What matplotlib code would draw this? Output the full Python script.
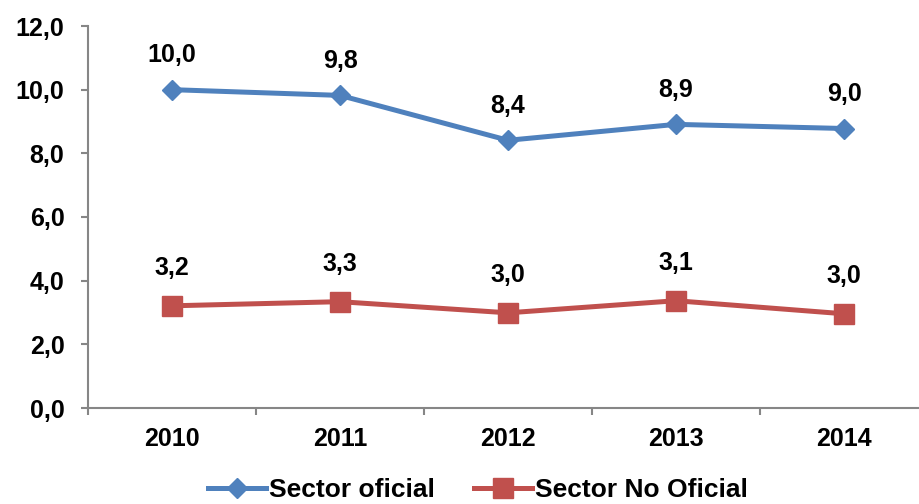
import matplotlib
matplotlib.use("Agg")
import matplotlib.pyplot as plt
import numpy as np

years = ["2010", "2011", "2012", "2013", "2014"]
oficial = [10.0, 9.82, 8.41, 8.91, 8.78]
no_oficial = [3.21, 3.34, 2.99, 3.37, 2.96]
oficial_labels = ["10,0", "9,8", "8,4", "8,9", "9,0"]
no_oficial_labels = ["3,2", "3,3", "3,0", "3,1", "3,0"]

plt.rcParams['font.family'] = ['Liberation Sans', 'DejaVu Sans']
plt.rcParams['font.weight'] = 'bold'

fig = plt.figure(figsize=(9.2, 5.04), dpi=100)
ax = fig.add_axes([88/920, 1 - 408/504, 840/920, 382/504])

x = np.arange(len(years))
blue = "#4F81BD"
red = "#C0504D"
ax.plot(x, oficial, color=blue, lw=3.6, marker="D", markersize=10,
        label="Sector oficial", solid_joinstyle="miter")
ax.plot(x, no_oficial, color=red, lw=3.6, marker="s", markersize=14,
        label="Sector No Oficial")

for xi, v, t in zip(x, oficial, oficial_labels):
    ax.annotate(t, (xi, v), xytext=(0, 25), textcoords="offset points",
                ha="center", va="center", fontsize=18, fontweight="bold")
for xi, v, t in zip(x, no_oficial, no_oficial_labels):
    ax.annotate(t, (xi, v), xytext=(0, 27), textcoords="offset points",
                ha="center", va="center", fontsize=18, fontweight="bold")

ax.set_xlim(-0.5, 4.5)
ax.set_ylim(0, 12)
ax.set_yticks(np.arange(0, 13, 2))
ax.set_yticklabels([f"{v:.1f}".replace(".", ",") for v in np.arange(0, 13, 2)])
ax.set_xticks(x)
ax.set_xticklabels(years)
ax.set_xticks(np.arange(-0.5, 4.6, 1), minor=True)

for s in ["top", "right"]:
    ax.spines[s].set_visible(False)
for s in ["left", "bottom"]:
    ax.spines[s].set_color("#868686")
    ax.spines[s].set_linewidth(1.5)

ax.tick_params(axis="y", length=5, width=1.5, color="#868686", pad=12, labelsize=18)
ax.tick_params(axis="x", which="major", length=0, pad=14, labelsize=18)
ax.tick_params(axis="x", which="minor", length=5, width=1.5, color="#868686")

fig.legend(loc="center", bbox_to_anchor=(478/920, 1 - 490/504), ncol=2, frameon=False,
           fontsize=19, handlelength=2.2, handletextpad=0.1, columnspacing=1.5)

fig.savefig("out.png", dpi=100)
